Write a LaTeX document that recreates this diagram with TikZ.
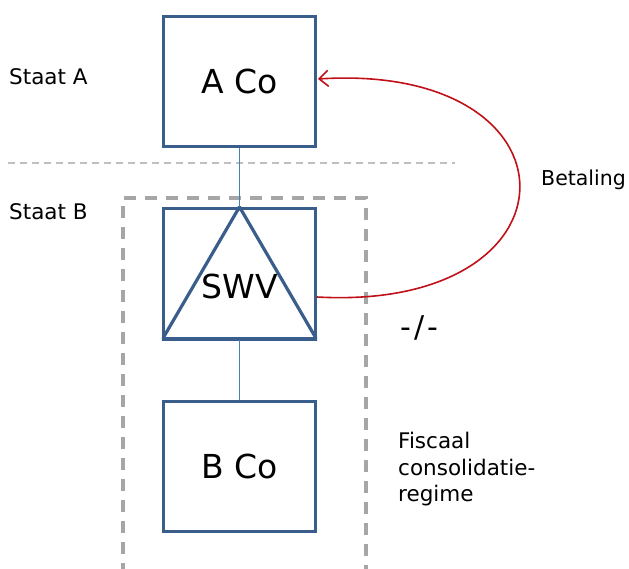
\documentclass[tikz,border=0pt]{standalone}
\usepackage{fontspec}
\setmainfont{DejaVu Sans}
\usetikzlibrary{arrows.meta}
\definecolor{boxblue}{RGB}{58,94,140}
\definecolor{linkblue}{RGB}{74,126,187}
\definecolor{payred}{RGB}{192,16,24}
\definecolor{lightdash}{RGB}{191,191,191}
\definecolor{darkdash}{RGB}{166,166,166}
\tikzset{
  entity/.style={draw=boxblue, line width=3.2pt, minimum width=152pt, minimum height=130pt, inner sep=0pt, font=\fontsize{33}{40}\selectfont},
  link/.style={draw=linkblue, line width=1.6pt},
  label/.style={inner sep=0pt, font=\fontsize{21.5}{26.5}\selectfont},
}
\begin{document}
\begin{tikzpicture}[x=1pt,y=-1pt]
\useasboundingbox (0,0) rectangle (629,569);
% dashed separators
\draw[lightdash, line width=1.8pt, dash pattern=on 7pt off 5pt] (8,163) -- (455,163);
\draw[darkdash, line width=3.6pt, dash pattern=on 12pt off 9pt] (123,575) -- (123,198) -- (366,198) -- (366,575);
% boxes
\node[entity] (aco) at (239.5,81.5) {A Co};
\node[entity] (swv) at (239.5,273.5) {};
\node[entity] (bco) at (239.5,466.5) {B Co};
\begin{scope}
\clip (swv.south west) rectangle (swv.north east);
\draw[boxblue, line width=3.2pt, line join=round] (swv.south west) -- (swv.north) -- (swv.south east) -- cycle;
\end{scope}
\node[inner sep=0pt, font=\fontsize{33}{40}\selectfont] (swvtext) at (239.5,286) {SWV};
% connectors
\draw[link] (aco.south) -- (swv.north);
\draw[link] (swv.south) -- (bco.north);
% payment arrow
\coordinate (payfrom) at (317,297);
\coordinate (payto) at (318,79);
\draw[payred, line width=1.6pt, -{Straight Barb[length=9pt,width=16pt,line width=1.6pt]}]
  (payfrom) .. controls (587,312) and (587,62) .. (payto);
% labels
\node[label, anchor=base west] (staata) at (9,85) {Staat A};
\node[label, anchor=base west] (staatb) at (9,220) {Staat B};
\node[inner sep=0pt, anchor=base west, font=\fontsize{20.5}{26}\selectfont] (betaling) at (541,186) {Betaling};
\node[inner sep=0pt, anchor=base west, font=\fontsize{30}{36}\selectfont] (nietaftrek) at (400,337) {-\kern3pt/\kern3pt-};
\node[label, anchor=north west, align=left] (fiscaal) at (398,432) {Fiscaal\\consolidatie-\\regime};
\end{tikzpicture}
\end{document}
